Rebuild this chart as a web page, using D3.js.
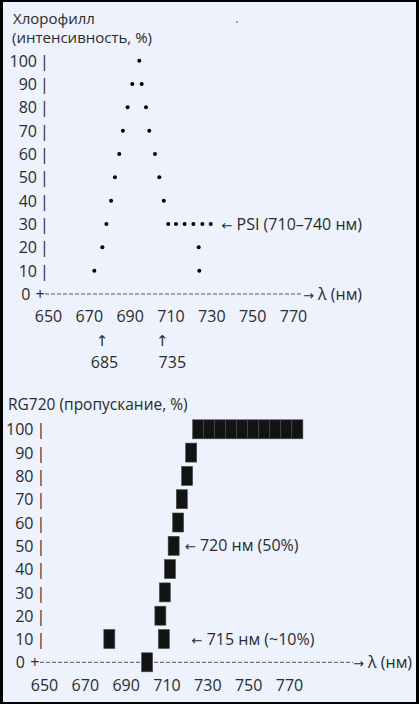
<!DOCTYPE html>
<html>
<head>
<meta charset="utf-8">
<title>Хлорофилл и RG720</title>
<script src="https://cdn.jsdelivr.net/npm/d3@7"></script>
<style>
  html, body { margin: 0; padding: 0; background: #000; }
  svg { display: block; }
  text { font-family: "Open Sans", "Noto Sans", sans-serif; font-size: 16px; fill: #2b2b2b; }
  text.title { font-size: 15px; }
  tspan.arr { font-family: "DejaVu Sans", sans-serif; font-size: 13px; }
</style>
</head>
<body>
<script>
// ---- data: chlorophyll (top) ----
var chlLevels   = [100, 90, 80, 70, 60, 50, 40, 30, 20, 10];
var chlLeftNm   = [694.7, 691.3, 689.0, 686.7, 684.9, 682.8, 680.9, 678.6, 676.6, 672.7];
var chlRightNm  = [null, 695.9, 698.0, 699.6, 702.4, 704.5, 706.7, 708.9, 723.8, 724.1];
var psiLevel    = 30;
var psiNm       = [712.7, 716.9, 721.2, 725.6, 729.7];
var peakArrowNm = [676.5, 706];
var peakLabelNm = [677.7, 710.9];
var peakLabels  = ["685", "735"];

// ---- data: RG720 filter (bottom) ----
var rgLevels    = [0, 10, 20, 30, 40, 50, 60, 70, 80, 90];
var rgEdgeNm    = [700.5, 708.7, 707.0, 709.2, 711.7, 713.5, 715.7, 717.5, 720.1, 722.1];
var rgStrayNm   = [682];
var rgStrayLvl  = [10];
var rgPlateauNm = [725.5, 730.9, 736.3, 741.7, 747.1, 752.5, 757.9, 763.3, 768.7, 774.1];
var rgNotes     = [{ nm: 719, lvl: 50, text: "720 нм (50%)" },
                   { nm: 722.3, lvl: 10, text: "715 нм (~10%)" }];

var yTicks = [0, 10, 20, 30, 40, 50, 60, 70, 80, 90, 100];
var xTicks = [650, 670, 690, 710, 730, 750, 770];

var W = 419, H = 704;
var svg = d3.select("body").append("svg").attr("width", W).attr("height", H);

svg.append("rect").attr("width", W).attr("height", H).attr("fill", "#000");
svg.append("rect").attr("x", 3).attr("y", 2).attr("width", 413).attr("height", 700).attr("fill", "#edf2fd");
svg.append("rect").attr("x", 236).attr("y", 21).attr("width", 2).attr("height", 2).attr("fill", "#9aa0aa");

// text with a leading arrow glyph drawn in a font that has it
function arrowText(g, x, y, arrow, rest) {
  var t = g.append("text").attr("x", x).attr("y", y).attr("dy", "0.35em");
  t.append("tspan").attr("class", "arr").text(arrow);
  t.append("tspan").text(" " + rest);
  return t;
}

function drawFrame(g, x, y, axisX, zeroShift, plusX, dashFrom, dashTo, tickY) {
  var ya = d3.axisLeft(y).tickValues(yTicks).tickSize(0).tickPadding(0).tickFormat(d3.format("d"));
  var yg = g.append("g").attr("transform", "translate(" + axisX + ",0)").call(ya);
  yg.select(".domain").remove();
  yg.selectAll("text").attr("dy", "0.35em").attr("fill", "#2b2b2b")
    .style("font-size", "16px").style("font-family", "'Open Sans', sans-serif")
    .attr("x", function(d) { return d === 0 ? zeroShift : 0; });
  yg.selectAll(".tick").append("text")
    .attr("fill", "#2b2b2b").attr("text-anchor", "middle").attr("dy", "0.35em")
    .style("font-size", "16px").style("font-family", "'Open Sans', sans-serif")
    .attr("x", function(d) { return d === 0 ? plusX : 7.5; })
    .text(function(d) { return d === 0 ? "+" : "|"; });

  g.append("line")
    .attr("x1", dashFrom).attr("x2", dashTo)
    .attr("y1", y(0)).attr("y2", y(0))
    .attr("stroke", "#555").attr("stroke-width", 1).attr("stroke-dasharray", "4,2");
  arrowText(g, dashTo, y(0), "\u2192", "\u03bb (нм)");

  var xa = d3.axisBottom(x).tickValues(xTicks).tickSize(0).tickPadding(0).tickFormat(d3.format("d"));
  var xg = g.append("g").attr("transform", "translate(0," + tickY + ")").call(xa);
  xg.select(".domain").remove();
  xg.selectAll("text").attr("dy", "0.35em").attr("y", 0).attr("fill", "#2b2b2b")
    .style("font-size", "16px").style("font-family", "'Open Sans', sans-serif");
}

// ---- top chart ----
var xTop = d3.scaleLinear().domain([650, 770]).range([48, 293]);
var yTop = d3.scaleLinear().domain([0, 100]).range([294, 60.7]);
var gTop = svg.append("g");

gTop.append("text").attr("class", "title").attr("x", 13).attr("y", 19).attr("dy", "0.35em").text("Хлорофилл");
gTop.append("text").attr("class", "title").attr("x", 12).attr("y", 37.5).attr("dy", "0.35em").text("(интенсивность, %)");

drawFrame(gTop, xTop, yTop, 37, -6.7, 3, 45, 303, 316.7);

var chlPts = [];
chlLevels.forEach(function(l, i) {
  chlPts.push([chlLeftNm[i], l]);
  if (chlRightNm[i] !== null) chlPts.push([chlRightNm[i], l]);
});
psiNm.forEach(function(n) { chlPts.push([n, psiLevel]); });

gTop.selectAll("circle.dot").data(chlPts).enter().append("circle")
  .attr("class", "dot")
  .attr("cx", function(d) { return xTop(d[0]); })
  .attr("cy", function(d) { return yTop(d[1]); })
  .attr("r", 2).attr("fill", "#000");

arrowText(gTop, xTop(735), yTop(psiLevel), "\u2190", "PSI (710\u2013740 нм)");

gTop.selectAll("text.arrow").data(peakArrowNm).enter().append("text")
  .attr("class", "arrow").attr("text-anchor", "middle")
  .style("font-family", "'DejaVu Sans', sans-serif").style("font-size", "15px")
  .attr("x", function(d) { return xTop(d); }).attr("y", 340.7).attr("dy", "0.35em")
  .text("\u2191");
gTop.selectAll("text.peak").data(peakLabelNm).enter().append("text")
  .attr("class", "peak").attr("text-anchor", "middle")
  .attr("x", function(d) { return xTop(d); }).attr("y", 362.7).attr("dy", "0.35em")
  .text(function(d, i) { return peakLabels[i]; });

// ---- bottom chart ----
var xBot = d3.scaleLinear().domain([650, 770]).range([44, 289]);
var yBot = d3.scaleLinear().domain([0, 100]).range([662.3, 429.3]);
var gBot = svg.append("g");

gBot.append("text").attr("class", "title").attr("x", 8).attr("y", 405).attr("dy", "0.35em")
  .style("font-size", "15.5px").text("RG720 (пропускание, %)");

drawFrame(gBot, xBot, yBot, 33.5, -8.5, 1.3, 40, 353, 685);

var blockW = 11, blockH = 19;
var blocks = [];
rgLevels.forEach(function(l, i) { blocks.push([rgEdgeNm[i], l]); });
rgStrayNm.forEach(function(n, i) { blocks.push([n, rgStrayLvl[i]]); });
rgPlateauNm.forEach(function(n) { blocks.push([n, 100]); });

gBot.selectAll("rect.blk").data(blocks).enter().append("rect")
  .attr("class", "blk")
  .attr("x", function(d) { return xBot(d[0]) - blockW / 2; })
  .attr("y", function(d) { return yBot(d[1]) - blockH / 2; })
  .attr("width", blockW).attr("height", blockH)
  .attr("fill", "#131313").attr("stroke", "#4a4a4a").attr("stroke-width", 0.6);

rgNotes.forEach(function(d) {
  arrowText(gBot, xBot(d.nm), yBot(d.lvl), "\u2190", d.text);
});
</script>
</body>
</html>
